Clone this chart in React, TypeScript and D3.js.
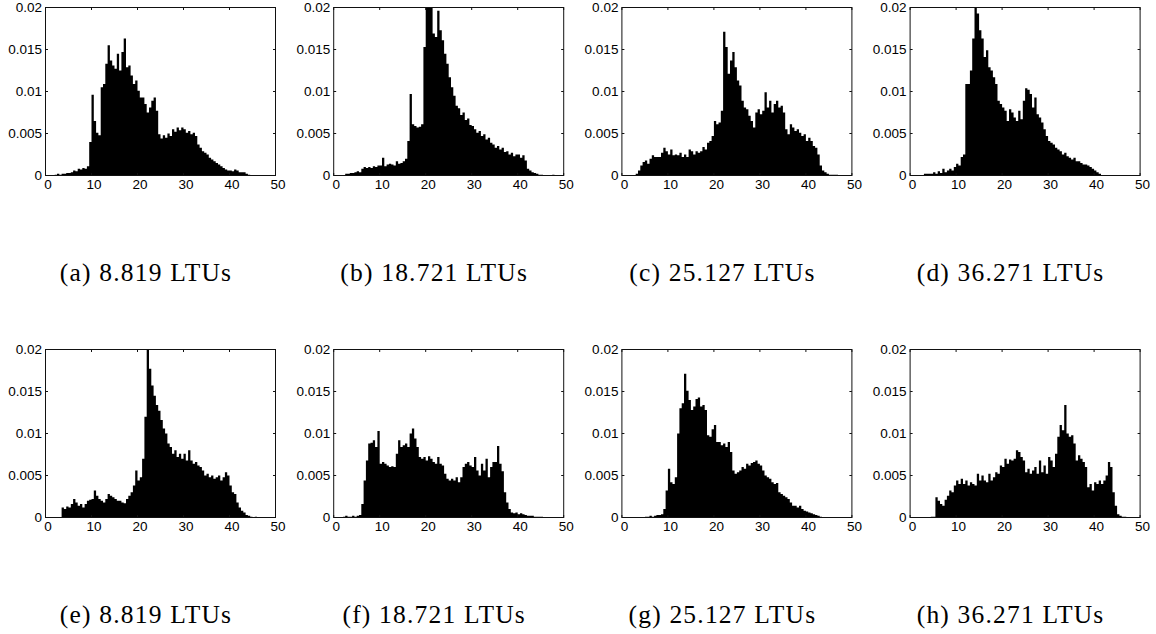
import React from 'react';
import * as d3 from 'd3';

// every histogram starts at 0, bins are 0.5 wide
const binWidth = 0.5;

// bin heights, in units of 1e-4
const histA = [
  0, 0, 0, 0, 1, 2, 1, 2, 2, 3,
  3, 4, 6, 5, 8, 7, 9, 8, 11, 40,
  96, 65, 51, 48, 105, 109, 133, 155, 137, 131,
  127, 145, 125, 147, 163, 129, 131, 119, 109, 113,
  101, 93, 93, 85, 75, 81, 89, 93, 77, 49,
  44, 48, 45, 50, 47, 55, 52, 57, 54, 57,
  55, 51, 53, 49, 51, 47, 37, 33, 29, 27,
  25, 21, 19, 17, 15, 13, 11, 9, 7, 6,
  6, 5, 7, 6, 4, 4, 4, 2, 1, 0,
];
const histB = [
  0, 0, 0, 0, 0, 2, 2, 3, 3, 4,
  5, 4, 8, 10, 9, 10, 9, 11, 10, 12,
  12, 21, 11, 13, 14, 13, 12, 17, 14, 15,
  17, 20, 41, 97, 61, 59, 57, 58, 61, 153,
  240, 260, 230, 169, 165, 196, 173, 161, 145, 133,
  117, 105, 95, 83, 80, 72, 75, 66, 68, 60,
  59, 55, 51, 53, 47, 49, 43, 45, 39, 37,
  33, 35, 31, 33, 28, 29, 25, 27, 23, 25,
  25, 21, 24, 18, 8, 6, 4, 3, 2, 1,
  1, 0, 0, 0, 0, 1,
];
const histC = [
  0, 0, 0, 0, 0, 0, 2, 6, 12, 16,
  18, 14, 20, 24, 22, 22, 22, 27, 33, 29,
  25, 31, 24, 25, 24, 27, 22, 25, 22, 31,
  29, 25, 29, 27, 29, 34, 31, 39, 41, 47,
  65, 61, 63, 77, 171, 153, 121, 137, 147, 129,
  113, 107, 89, 81, 79, 71, 65, 57, 75, 79,
  73, 77, 99, 81, 89, 75, 85, 89, 81, 83,
  75, 55, 49, 61, 57, 53, 55, 51, 47, 49,
  41, 45, 41, 35, 33, 25, 12, 6, 4, 2,
  1, 1, 1, 1,
];
const histD = [
  0, 0, 0, 0, 0, 0, 2, 2, 2, 2,
  4, 2, 5, 3, 8, 4, 6, 8, 6, 10,
  14, 12, 22, 25, 109, 109, 125, 163, 210, 193,
  173, 163, 141, 149, 129, 125, 117, 109, 89, 85,
  81, 77, 65, 79, 75, 69, 65, 77, 67, 89,
  104, 102, 97, 81, 93, 73, 69, 63, 55, 47,
  41, 39, 37, 33, 31, 29, 25, 27, 23, 21,
  19, 21, 17, 17, 15, 13, 13, 12, 10, 8,
  6, 4, 2,
];
const histE = [
  0, 0, 0, 0, 0, 0, 0, 12, 10, 13,
  12, 16, 22, 18, 14, 16, 12, 16, 20, 21,
  22, 32, 26, 22, 20, 18, 22, 28, 26, 24,
  22, 20, 20, 18, 17, 22, 26, 30, 38, 56,
  44, 48, 70, 120, 200, 177, 157, 145, 134, 127,
  116, 106, 100, 88, 84, 76, 80, 72, 76, 70,
  76, 68, 80, 68, 64, 66, 62, 60, 56, 50,
  52, 48, 50, 46, 48, 50, 44, 48, 54, 50,
  38, 30, 28, 18, 12, 8, 6, 3, 2, 1,
  0, 1,
];
const histF = [
  0, 0, 0, 0, 1, 2, 1, 1, 2, 1,
  2, 3, 16, 44, 68, 88, 89, 92, 84, 103,
  64, 66, 64, 62, 60, 61, 60, 76, 92, 84,
  86, 88, 84, 100, 106, 94, 84, 72, 70, 72,
  68, 73, 70, 66, 64, 72, 64, 62, 52, 46,
  44, 46, 44, 48, 42, 48, 60, 64, 66, 62,
  60, 72, 56, 50, 64, 56, 70, 48, 60, 66,
  66, 85, 64, 55, 30, 18, 10, 6, 5, 6,
  4, 5, 4, 3, 2, 2, 2, 1, 1, 1,
  1,
];
const histG = [
  0, 0, 0, 0, 0, 0, 0, 0, 0, 0,
  1, 1, 2, 1, 2, 3, 3, 4, 10, 32,
  58, 42, 40, 48, 100, 130, 136, 171, 151, 140,
  128, 132, 141, 143, 132, 134, 128, 98, 96, 105,
  110, 90, 90, 86, 88, 84, 90, 78, 56, 52,
  54, 56, 60, 58, 64, 62, 65, 66, 68, 64,
  62, 56, 50, 48, 46, 42, 40, 41, 30, 28,
  26, 24, 22, 18, 14, 14, 12, 14, 10, 8,
  7, 6, 5, 4, 3, 2, 1,
];
const histH = [
  0, 0, 0, 0, 0, 0, 0, 0, 0, 1,
  1, 24, 20, 16, 14, 21, 26, 32, 30, 38,
  44, 40, 46, 40, 44, 38, 42, 40, 38, 52,
  44, 50, 44, 42, 52, 44, 48, 54, 52, 62,
  60, 70, 64, 69, 68, 70, 80, 78, 72, 68,
  54, 58, 52, 56, 60, 52, 68, 54, 62, 52,
  72, 68, 60, 76, 96, 110, 104, 134, 100, 96,
  98, 88, 68, 74, 70, 66, 60, 36, 40, 32,
  42, 40, 44, 40, 44, 50, 66, 60, 30, 14,
  4, 2, 1, 1,
];

const histograms = [histA, histB, histC, histD, histE, histF, histG, histH];
const captions = [
  '(a) 8.819 LTUs', '(b) 18.721 LTUs', '(c) 25.127 LTUs', '(d) 36.271 LTUs',
  '(e) 8.819 LTUs', '(f) 18.721 LTUs', '(g) 25.127 LTUs', '(h) 36.271 LTUs',
];
const xTicks = [0, 10, 20, 30, 40, 50];
const yTicks = [0, 0.005, 0.01, 0.015, 0.02];

const plotW = 230;
const plotH = 168;
const tickLen = 2.5;
const sans = '"Liberation Sans", Arial, Helvetica, sans-serif';
const serif = '"Liberation Serif", "Times New Roman", serif';

function Histogram({ values, caption, left, top, id }) {
  const x = d3.scaleLinear().domain([0, 50]).range([0, plotW]);
  const y = d3.scaleLinear().domain([0, 0.02]).range([plotH, 0]);
  const pts = values.map((v, i) => [i * binWidth, v / 10000]);
  pts.push([values.length * binWidth, values[values.length - 1] / 10000]);
  const area = d3
    .area()
    .x((d) => x(d[0]))
    .y0(y(0))
    .y1((d) => y(d[1]))
    .curve(d3.curveStepAfter);

  return (
    <g transform={`translate(${left},${top})`}>
      <clipPath id={id}>
        <rect x={0} y={0} width={plotW} height={plotH} />
      </clipPath>
      <path d={area(pts)} fill="#000" clipPath={`url(#${id})`} />
      <rect x={0} y={0} width={plotW} height={plotH} fill="none" stroke="#111" strokeWidth={1} />
      {xTicks.map((t) => (
        <g key={'x' + t}>
          <line x1={x(t)} x2={x(t)} y1={plotH} y2={plotH - tickLen} stroke="#111" />
          <line x1={x(t)} x2={x(t)} y1={0} y2={tickLen} stroke="#111" />
          <text
            x={x(t) + 2.5}
            y={plotH + 13.5}
            textAnchor="middle"
            fontFamily={sans}
            fontSize={13.5}
            fill="#000"
          >
            {t}
          </text>
        </g>
      ))}
      {yTicks.map((t) => (
        <g key={'y' + t}>
          <line x1={0} x2={tickLen} y1={y(t)} y2={y(t)} stroke="#111" />
          <line x1={plotW} x2={plotW - tickLen} y1={y(t)} y2={y(t)} stroke="#111" />
          <text
            x={-3.5}
            y={y(t)}
            dy="0.36em"
            textAnchor="end"
            fontFamily={sans}
            fontSize={13.5}
            fill="#000"
          >
            {String(t)}
          </text>
        </g>
      ))}
      <text
        x={plotW / 2 - 14.5}
        y={273.7}
        textAnchor="middle"
        fontFamily={serif}
        fontSize={25.5}
        letterSpacing={1.2}
        fill="#000"
      >
        {caption}
      </text>
    </g>
  );
}

export default function App() {
  return (
    <svg
      width={1156}
      height={634}
      style={{ position: 'absolute', left: 0, top: 0, background: '#fff' }}
    >
      {histograms.map((values, i) => (
        <Histogram
          key={i}
          id={'clip' + i}
          values={values}
          caption={captions[i]}
          left={45.5 + (i % 4) * 288.2}
          top={7.5 + Math.floor(i / 4) * 342}
        />
      ))}
    </svg>
  );
}
